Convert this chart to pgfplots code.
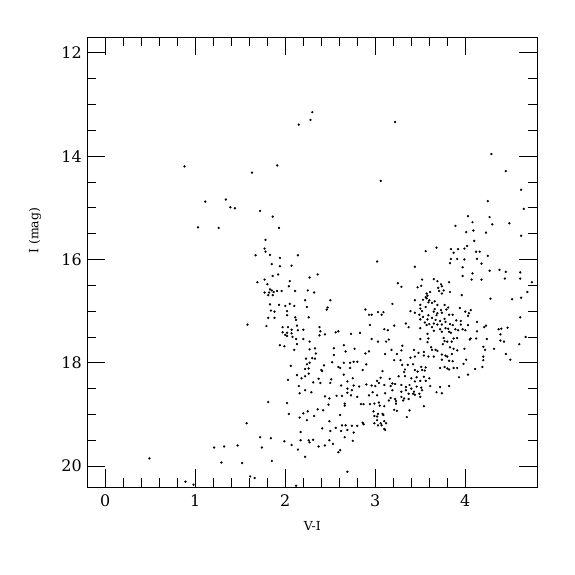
\documentclass[border=0pt]{standalone}
\usepackage{pgfplots}
\pgfplotsset{compat=1.18}
\usepackage{fontspec}
\setmainfont{DejaVu Serif}
\begin{document}
\begin{tikzpicture}
\begin{axis}[
  scale only axis, width=450bp, height=450bp,
  xmin=-0.2, xmax=4.8, ymin=11.7, ymax=20.41,
  y dir=reverse,
  xtick={0,1,2,3,4}, ytick={12,14,16,18,20},
  minor x tick num=4, minor y tick num=3,
  tick align=inside,
  major tick length=18bp, minor tick length=9bp,
  axis line style={line width=0.7bp},
  every tick/.style={line width=0.7bp, black},
  /pgf/number format/assume math mode=true,
  ticklabel style={font=\fontsize{16}{18}\selectfont},
  xticklabel style={yshift=-4bp},
  yticklabel style={xshift=-2bp},
  xlabel={V-I}, ylabel={I (mag)},
  label style={font=\fontsize{12.5}{14}\selectfont},
  x label style={at={(axis description cs:0.5,-0.086)}, anchor=center},
  y label style={at={(axis description cs:-0.116,0.57)}, anchor=center},
]
\addplot[only marks, mark=*, mark size=0.95bp, black] coordinates {
(0.88,14.20) (1.63,14.32) (1.91,14.18) (2.15,13.39) (2.28,13.30) (2.30,13.15) (3.22,13.34) (3.06,14.48) (4.29,13.96) (4.45,14.29)
(1.11,14.88) (1.34,14.84) (1.39,14.99) (1.44,15.01) (1.03,15.38) (1.26,15.39) (0.49,19.85) (1.21,19.64) (1.32,19.62) (1.29,19.93) (0.89,20.30) (0.98,20.36)
(1.72,15.06) (1.86,15.17) (1.93,15.39) (1.78,15.62) (1.77,15.79) (1.78,15.85) (1.67,15.92) (1.83,15.91) (1.94,15.97) (2.14,15.92)
(1.85,16.09) (1.94,16.13) (2.07,16.12) (1.77,16.39) (1.86,16.32) (1.92,16.29) (2.27,16.35) (2.36,16.29) (1.69,16.44) (1.80,16.48)
(2.05,16.42) (1.83,16.58) (1.85,16.60) (1.77,16.64) (1.82,16.64) (1.87,16.63) (1.91,16.61) (1.96,16.61) (2.04,16.52) (2.11,16.61)
(1.81,16.69) (1.86,16.69) (2.25,16.60) (2.32,16.64) (2.22,16.79) (2.50,16.79) (1.83,16.87) (1.93,16.88) (2.00,16.90) (2.05,16.86)
(2.10,16.90) (2.24,16.92) (2.47,16.93) (2.46,16.97) (1.84,16.99) (1.88,17.01) (2.02,17.00) (2.02,17.08) (2.26,17.12) (1.81,17.13)
(1.88,17.13) (2.11,17.12) (2.12,17.17) (1.58,17.26) (1.79,17.29) (1.97,17.31) (2.03,17.31) (2.13,17.28) (2.38,17.31) (1.97,17.41)
(2.02,17.42) (2.07,17.36) (2.14,17.37) (2.20,17.36) (2.39,17.39) (2.44,17.45) (2.56,17.41) (2.00,17.46) (2.07,17.43) (2.02,17.48)
(2.12,17.54) (2.20,17.54) (2.38,17.47)
(2.08,17.50) (2.27,17.59) (2.13,17.64) (1.94,17.66) (1.99,17.68) (2.10,17.75) (2.27,17.74) (2.33,17.72) (2.54,17.72) (2.34,17.82)
(2.54,17.85) (2.23,17.92) (2.30,17.91) (2.33,17.92) (2.52,17.99) (2.27,18.00) (2.24,18.03) (2.43,18.05) (2.06,18.06) (2.22,18.12)
(2.26,18.11) (2.40,18.14) (2.41,18.16) (2.26,18.21) (2.13,18.24) (2.22,18.26) (2.18,18.30) (2.37,18.31) (2.51,18.32) (2.50,18.39)
(2.03,18.33) (2.31,18.38) (2.39,18.39) (2.15,18.45) (2.22,18.53) (2.16,18.59) (2.29,18.57) (2.44,18.65) (2.49,18.69) (2.57,18.64)
(1.81,18.76) (2.02,18.78) (2.48,18.81) (2.36,18.90) (2.42,18.92) (2.25,18.94) (2.20,18.98) (2.04,18.99) (2.32,19.03) (2.16,19.06)
(2.24,19.11) (2.49,19.13) (1.57,19.17) (2.41,19.27) (2.56,19.26) (2.50,19.32) (2.17,19.34) (1.72,19.44) (1.84,19.46) (1.99,19.52)
(2.17,19.50) (2.26,19.50) (2.27,19.54) (2.31,19.49) (1.47,19.60) (1.74,19.64) (2.07,19.59) (2.14,19.68) (2.37,19.62) (2.44,19.60)
(2.49,19.50) (2.53,19.57) (2.22,19.82) (1.52,19.94) (1.85,19.90) (1.61,20.20) (1.66,20.23) (2.69,20.11) (2.12,20.38)
(3.68,15.77) (3.56,15.84) (3.02,16.04) (3.44,16.14) (3.65,16.38) (3.52,16.39) (3.25,16.46) (3.29,16.53) (3.51,16.51) (3.47,16.54)
(3.61,16.63) (3.57,16.66) (3.58,16.70) (3.56,16.73) (3.57,16.75) (3.53,16.78) (3.60,16.79) (3.44,16.79) (3.63,16.84) (3.66,16.81)
(3.19,16.86) (3.50,16.88) (3.56,16.92) (3.59,16.83) (3.50,16.95) (3.52,17.00) (3.66,16.96) (3.65,17.01) (2.89,16.97) (3.03,17.02)
(3.09,17.02) (2.93,17.07) (2.96,17.07) (3.07,17.07) (3.39,17.00) (3.44,17.03) (3.49,17.07) (3.53,17.11) (3.59,17.08) (3.63,17.13)
(3.68,17.08) (3.50,17.16) (3.58,17.16) (3.34,17.24) (3.37,17.31) (3.55,17.22) (3.57,17.27) (3.60,17.25) (3.65,17.24) (3.67,17.17)
(3.63,17.31) (2.94,17.27) (3.21,17.28) (3.10,17.35) (3.14,17.37) (3.50,17.33) (2.59,17.39) (2.73,17.44) (2.83,17.42) (3.58,17.44)
(3.65,17.38) (2.96,17.54) (3.15,17.55) (3.50,17.54) (3.59,17.53)
(3.03,17.59) (3.12,17.59) (3.58,17.60) (3.62,17.70) (3.63,17.75) (3.67,17.75) (2.65,17.66) (2.77,17.73) (2.67,17.78) (2.89,17.82)
(2.93,17.78) (3.11,17.83) (3.18,17.75) (3.24,17.83) (3.29,17.76) (3.30,17.67) (3.43,17.75) (3.48,17.81) (3.54,17.79) (3.54,17.86)
(3.59,17.88) (3.65,17.88) (3.44,17.88) (3.39,17.90) (3.28,17.95) (3.21,17.95) (2.65,18.00) (2.72,18.00) (2.76,17.98) (2.80,17.98)
(2.90,18.03) (2.59,18.08) (2.61,18.10) (2.72,18.10) (2.86,18.14) (3.30,18.04) (3.36,18.04) (3.42,18.03) (3.51,18.08) (3.56,18.09)
(3.52,18.14) (3.55,18.15) (3.08,18.16) (3.33,18.13) (3.32,18.18) (3.44,18.14) (3.47,18.17) (2.65,18.23) (2.75,18.30) (2.69,18.36)
(3.02,18.35) (3.06,18.29) (3.16,18.31) (3.26,18.26) (3.33,18.26) (3.40,18.30) (3.46,18.28) (3.44,18.36) (3.50,18.35) (3.54,18.27)
(3.56,18.35) (3.60,18.30) (2.62,18.44) (2.76,18.44) (2.82,18.46) (2.90,18.42) (2.96,18.44) (3.00,18.45) (3.04,18.39) (3.10,18.43)
(3.17,18.45) (3.19,18.40) (3.22,18.41) (3.29,18.43) (3.34,18.47) (3.38,18.43) (3.40,18.50) (3.46,18.46) (3.51,18.48) (3.52,18.53)
(3.61,18.45) (3.68,18.57) (2.69,18.50) (2.74,18.53) (2.69,18.58) (2.63,18.64) (2.73,18.63) (2.80,18.66) (2.93,18.63) (2.97,18.57)
(3.02,18.63) (3.11,18.59) (3.19,18.53) (3.29,18.56) (3.34,18.53) (3.37,18.60) (3.42,18.60) (3.43,18.56) (3.44,18.62) (3.49,18.60)
(3.50,18.66) (3.17,18.68) (3.22,18.70) (3.29,18.66) (3.32,18.69) (3.37,18.70) (3.31,18.73) (3.15,18.73) (2.84,18.80) (2.87,18.80)
(2.94,18.80) (2.99,18.79) (3.04,18.77) (3.05,18.83) (3.10,18.84) (2.66,18.79) (2.66,18.83) (3.54,18.84) (3.23,18.74) (3.23,18.79)
(3.21,18.91) (3.24,18.93) (3.38,18.92) (2.98,18.94) (3.03,18.99) (3.08,18.99) (2.99,19.03) (3.02,19.04) (3.09,19.01) (3.35,19.05)
(2.61,19.01) (3.02,19.11) (3.10,19.13) (3.06,19.17) (2.99,19.17) (3.12,19.17) (3.03,19.21) (3.07,19.21) (2.86,19.16) (2.87,19.19)
(2.63,19.21) (2.67,19.21) (2.74,19.22) (2.80,19.22) (2.62,19.32) (2.69,19.30) (3.10,19.28) (3.11,19.30) (2.76,19.35) (2.66,19.44)
(2.75,19.51) (2.61,19.69) (2.59,19.73)
(4.62,14.65) (4.25,14.87) (4.65,15.02) (4.03,15.16) (4.27,15.18) (4.08,15.28) (3.89,15.35) (4.30,15.32) (4.49,15.30) (4.09,15.44)
(4.01,15.47) (4.23,15.48) (4.62,15.54) (4.10,15.64) (4.02,15.74) (3.84,15.80) (3.92,15.80) (3.99,15.79) (4.12,15.85) (4.16,15.85)
(3.87,15.87) (4.25,15.93) (3.84,15.99) (3.91,15.99) (3.99,16.00) (4.13,15.99) (3.83,16.07) (4.18,16.08) (3.97,16.15) (4.27,16.22)
(4.38,16.20) (4.45,16.24) (4.08,16.27) (4.61,16.25) (3.97,16.32) (4.07,16.39) (4.18,16.39) (4.44,16.37) (4.61,16.37) (3.69,16.42)
(3.82,16.44) (3.73,16.48) (3.74,16.52) (3.70,16.55) (3.71,16.61) (3.76,16.60) (3.83,16.63) (3.74,16.66) (3.96,16.69) (4.74,16.44)
(4.69,16.63) (4.62,16.74) (4.52,16.77) (4.28,16.76) (3.69,16.88) (3.77,16.88) (3.81,16.93) (3.73,16.98) (3.79,16.97) (3.94,16.94)
(4.06,16.98) (4.00,17.01) (4.04,17.04) (3.69,17.04) (3.74,17.03) (3.86,17.07) (3.82,17.07) (4.03,17.09) (4.61,17.12) (3.72,17.19)
(3.77,17.15) (3.78,17.21) (3.90,17.18) (3.95,17.19) (4.13,17.21) (3.69,17.26) (3.74,17.26) (3.83,17.25) (3.86,17.27) (3.95,17.26)
(4.03,17.27) (4.23,17.28) (4.21,17.31) (4.37,17.35) (4.40,17.34) (4.47,17.32) (3.78,17.33) (3.81,17.34) (3.72,17.35) (3.74,17.40)
(3.82,17.40) (3.84,17.42) (3.89,17.35) (3.92,17.37) (3.97,17.35) (4.00,17.37) (4.13,17.39) (4.39,17.45) (4.67,17.50) (3.76,17.52)
(3.87,17.53) (3.91,17.52) (4.06,17.53) (4.12,17.53) (4.24,17.54)
(3.77,17.58) (3.80,17.59) (3.85,17.59) (3.75,17.64) (3.69,17.77) (3.83,17.70) (3.87,17.73) (3.91,17.76) (3.99,17.73) (3.74,17.84)
(3.78,17.86) (3.85,17.83) (3.80,17.88) (3.74,17.94) (3.82,17.96) (3.86,17.97) (4.01,17.94) (3.98,18.02) (4.20,17.88) (4.20,17.95)
(4.22,17.75) (4.20,17.69) (4.05,17.55) (4.32,17.73) (4.39,17.57) (4.43,17.59) (4.45,17.83) (4.50,17.94) (4.60,17.64) (3.72,18.10)
(3.77,18.08) (3.80,18.11) (3.82,18.13) (3.87,18.10) (3.91,18.10) (4.11,18.12) (4.19,18.08) (4.03,18.23) (3.93,18.28) (3.72,18.47)
(3.82,18.45) (3.74,18.59)
};
\coordinate (fsw) at (rel axis cs:0,0);
\coordinate (fne) at (rel axis cs:1,1);
\end{axis}
\path (fsw) ++(-87.3bp,-87.7bp) coordinate (bba);
\path (fne) ++(37.7bp,37.3bp) coordinate (bbb);
\path (bba) rectangle (bbb);
\end{tikzpicture}
\end{document}
